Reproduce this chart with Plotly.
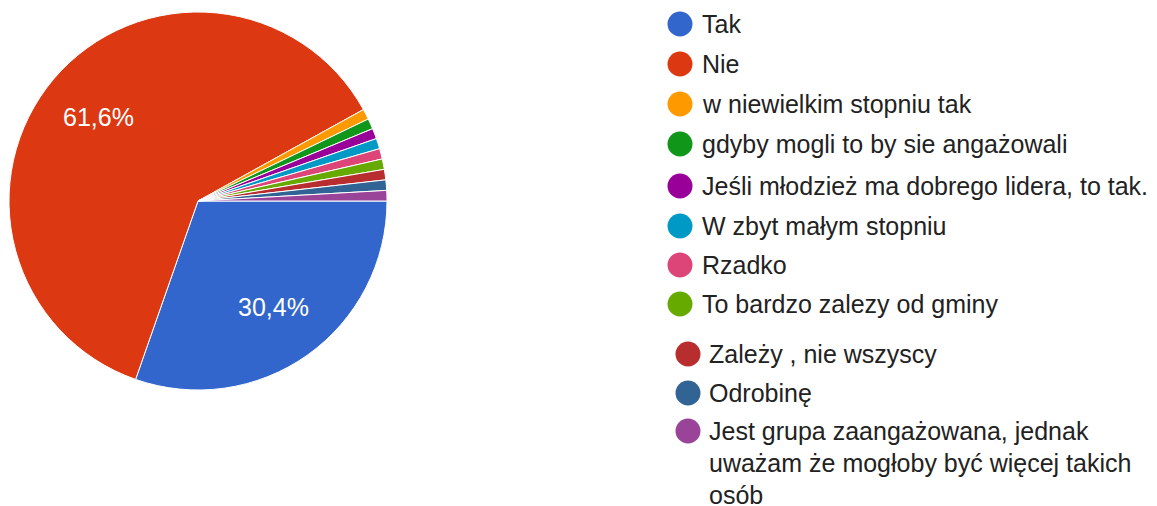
import math
import plotly.graph_objects as go

labels = [
    "Tak",
    "Nie",
    "w niewielkim stopniu tak",
    "gdyby mogli to by sie angażowali",
    "Jeśli młodzież ma dobrego lidera, to tak.",
    "W zbyt małym stopniu",
    "Rzadko",
    "To bardzo zalezy od gminy",
    "Zależy , nie wszyscy",
    "Odrobinę",
    "Jest grupa zaangażowana, jednak<br>uważam że mogłoby być więcej takich<br>osób",
]
values = [34, 69, 1, 1, 1, 1, 1, 1, 1, 1, 1]
colors = ["#3366cc", "#dc3912", "#ff9900", "#109618", "#990099", "#0099c6",
          "#dd4477", "#66aa00", "#b82e2e", "#316395", "#994499"]

W, H = 1157, 506
OFF = 8  # page body margin offset
cx, cy, r = 198, 201, 189  # pie centre / radius in screen pixels


def px(x):
    return (x - OFF) / W


def py(y):
    return 1 - (y - OFF) / H


FONT = "Arial, Liberation Sans, sans-serif"

fig = go.Figure(go.Pie(
    labels=labels, values=values, sort=False, direction="clockwise", rotation=90,
    marker=dict(colors=colors, line=dict(color="white", width=1)),
    textinfo="none", showlegend=False, hoverinfo="label+percent",
    domain=dict(x=[px(cx - r), px(cx + r)], y=[py(cy + r), py(cy - r)]),
))

annotations = []
shapes = []

# percentage labels for large slices
total = sum(values)
cum = 0
for v in values:
    frac = v / total
    if frac > 0.05:
        ang = math.radians((cum + frac / 2) * 360)
        lx = cx + 0.69 * r * math.cos(ang)
        ly = cy + 0.69 * r * math.sin(ang)
        txt = f"{frac * 100:.1f}%".replace(".", ",")
        annotations.append(dict(xref="paper", yref="paper", x=px(lx), y=py(ly),
                                xanchor="center", yanchor="middle", showarrow=False,
                                text=txt, font=dict(size=25, color="white", family=FONT)))
    cum += frac

# custom legend (circles + text)
row_y = [24, 64, 104, 144, 186, 226, 265, 304, 354, 393, 431]
circ_x = [680] * 8 + [688] * 3
text_x = [700] * 8 + [707] * 3
LINE = 32
for i, lab in enumerate(labels):
    shapes.append(dict(type="circle", xref="paper", yref="paper",
                       xsizemode="pixel", ysizemode="pixel",
                       xanchor=px(circ_x[i]), yanchor=py(row_y[i]),
                       x0=-12.5, x1=12.5, y0=-12.5, y1=12.5,
                       fillcolor=colors[i], line=dict(width=0)))
    for j, line in enumerate(lab.split("<br>")):
        annotations.append(dict(xref="paper", yref="paper", x=px(text_x[i]),
                                y=py(row_y[i] + j * LINE),
                                xanchor="left", yanchor="middle",
                                align="left", showarrow=False, text=line,
                                font=dict(size=25, color="#222222", family=FONT)))

fig.update_layout(
    width=W, height=H, margin=dict(l=0, r=0, t=0, b=0),
    paper_bgcolor="white", plot_bgcolor="white",
    shapes=shapes, annotations=annotations,
)
fig.write_html("out.html")
